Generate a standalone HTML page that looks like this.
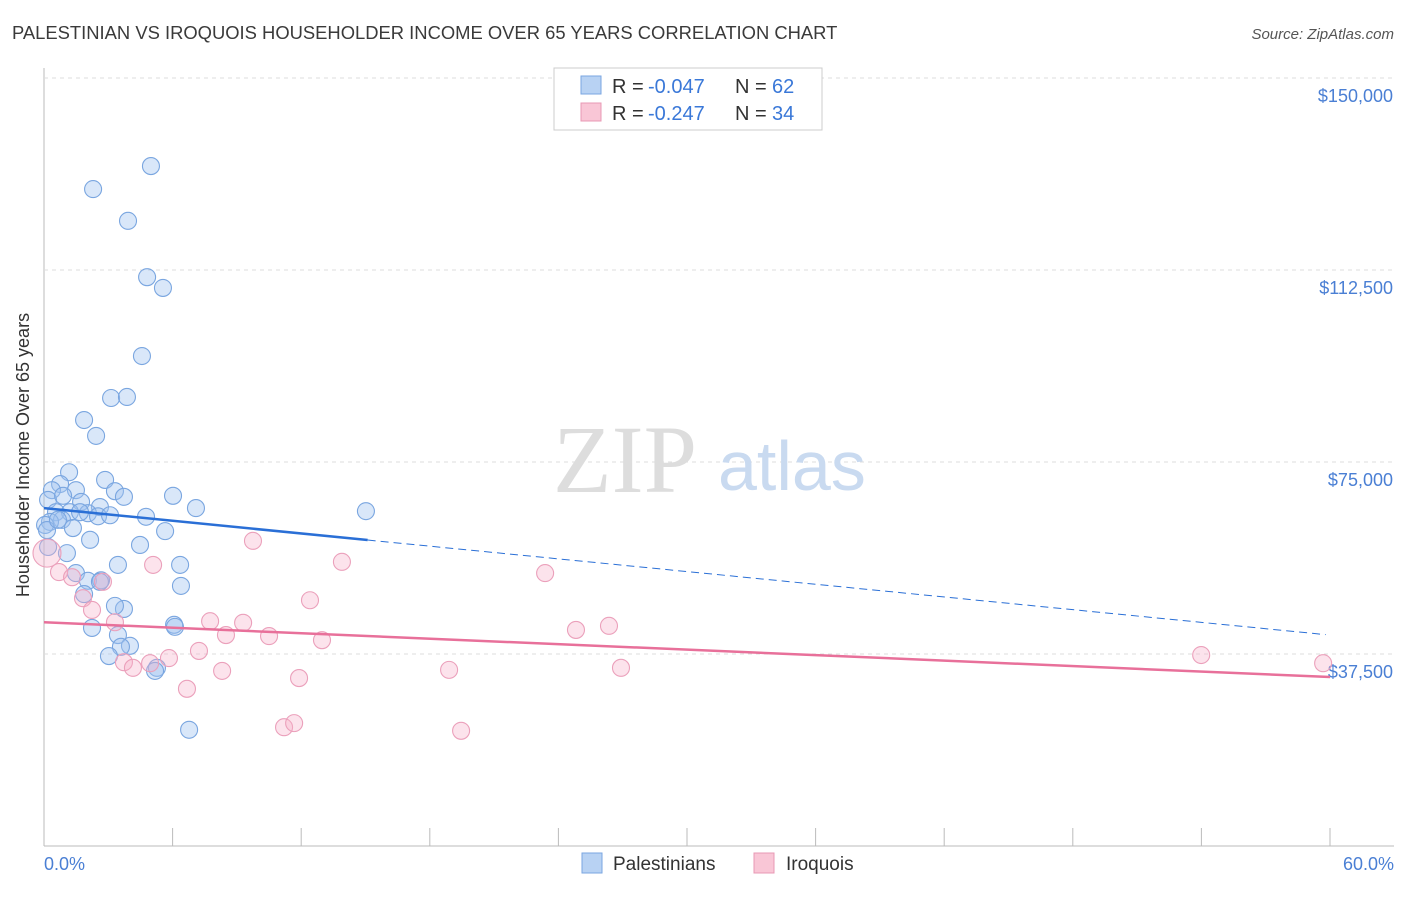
<!DOCTYPE html>
<html><head><meta charset="utf-8"><style>
body{margin:0;background:#fff;font-family:"Liberation Sans",sans-serif;}
</style></head><body>
<svg width="1406" height="892">
<text x="12" y="39" font-size="18.4" fill="#3a3a3a">PALESTINIAN VS IROQUOIS HOUSEHOLDER INCOME OVER 65 YEARS CORRELATION CHART</text>
<text x="1394" y="39" font-size="15" fill="#555" font-style="italic" text-anchor="end">Source: ZipAtlas.com</text>
<g id="grid"></g>
<text x="553" y="492" font-size="96" fill="#ddd" font-family="Liberation Serif">ZIP</text>
<text x="718" y="490" font-size="70" fill="#c9daf0">atlas</text>
<g id="pts"></g>
<g id="lines"></g>
<text x="29" y="455" font-size="18" fill="#333" text-anchor="middle" transform="rotate(-90 29 455)">Householder Income Over 65 years</text>
<text x="44" y="870" font-size="18" fill="#4a7fd4">0.0%</text>
<text x="1394" y="870" font-size="18" fill="#4a7fd4" text-anchor="end">60.0%</text>
<g>
<rect x="554" y="68" width="268" height="62" fill="#fff" stroke="#ccc"/>
<rect x="581" y="76" width="20" height="18" fill="#b8d2f3" stroke="#7aa6e0"/>
<rect x="581" y="103" width="20" height="18" fill="#f9c6d6" stroke="#e898b4"/>
<text x="612" y="93" font-size="20" fill="#333">R =</text>
<text x="648" y="93" font-size="20" fill="#3a78d8">-0.047</text>
<text x="735" y="93" font-size="20" fill="#333">N =</text>
<text x="772" y="93" font-size="20" fill="#3a78d8">62</text>
<text x="612" y="120" font-size="20" fill="#333">R =</text>
<text x="648" y="120" font-size="20" fill="#3a78d8">-0.247</text>
<text x="735" y="120" font-size="20" fill="#333">N =</text>
<text x="772" y="120" font-size="20" fill="#3a78d8">34</text>
</g>
<g>
<rect x="582" y="853" width="20" height="20" fill="#b8d2f3" stroke="#7aa6e0"/>
<text x="613" y="870" font-size="19" fill="#333">Palestinians</text>
<rect x="754" y="853" width="20" height="20" fill="#f9c6d6" stroke="#e898b4"/>
<text x="786" y="870" font-size="19" fill="#333">Iroquois</text>
</g>
</svg>
<script>
const yTicks=[37500,75000,112500,150000];
const yTickLabels=["$37,500","$75,000","$112,500","$150,000"];
const xTicks=[0,6,12,18,24,30,36,42,48,54,60];
const blueX=[4.99,2.29,3.92,4.81,5.55,4.57,3.13,3.87,1.87,2.43,1.17,2.85,0.75,0.37,1.49,3.31,3.73,6.02,0.19,1.73,2.61,7.09,15.02,0.56,1.21,2.05,2.52,0.84,4.76,0.28,1.35,5.65,2.15,4.48,1.07,0.19,3.45,6.35,1.49,6.39,2.05,2.66,2.61,1.87,3.73,3.31,2.24,6.07,6.11,3.45,4.01,3.59,3.03,5.27,5.18,6.77,0.05,0.14,0.65,0.89,1.68,3.08];
const blueY=[132800,128300,122100,111100,109000,95700,87500,87700,83200,80100,73000,71500,70700,69500,69500,69300,68200,68400,67600,67200,66200,66000,65400,65200,65200,65000,64400,63700,64300,63300,62100,61500,59800,58800,57200,58400,54900,54900,53300,50800,51800,51900,51600,49200,46300,46900,42600,43200,42800,41200,39100,38900,37100,34800,34200,22700,62700,61700,63700,68400,65200,64600];
const pinkX=[0.14,0.70,1.31,1.82,2.24,2.75,3.31,5.09,9.75,13.90,23.38,12.41,7.75,9.29,8.49,10.50,12.97,7.23,5.83,3.73,4.15,4.95,8.31,6.67,11.90,18.90,26.92,24.82,26.36,11.20,11.67,19.46,53.99,59.68];
const pinkY=[57200,53500,52500,48400,46100,51600,43700,54900,59600,55500,53300,48000,43900,43600,41200,41000,40200,38100,36700,35900,34800,35700,34200,30700,32800,34400,34800,42200,43000,23200,24000,22500,37300,35700];
const blueTrend=[66000,41200], pinkTrend=[43700,33000];
const X=v=>44+v/60*1286, Y=v=>846-v/37500*192;
const NS="http://www.w3.org/2000/svg";
function mk(t,a,p){const e=document.createElementNS(NS,t);for(const k in a)e.setAttribute(k,a[k]);p.appendChild(e);return e;}
const grid=document.getElementById('grid');
let ax=mk('line',{x1:44,y1:68,x2:44,y2:846,stroke:'#bbb'},grid);


let bx=mk('line',{x1:44,y1:846,x2:1394,y2:846,stroke:'#bbb'},grid);


yTicks.forEach((v,i)=>{
 const g=mk('line',{x1:44,y1:Y(v),x2:1394,y2:Y(v),stroke:'#ddd','stroke-dasharray':'4,4'},grid);
 
 
 const t=mk('text',{x:1393,y:Y(v)+24,'font-size':18,fill:'#4a7fd4','text-anchor':'end'},grid);
 t.textContent=yTickLabels[i];
 
 
});
xTicks.forEach(v=>{
 const l=mk('line',{x1:X(v),y1:828,x2:X(v),y2:846,stroke:'#bbb'},grid);
 
 
});
const pts=document.getElementById('pts');
blueX.forEach((x,i)=>{
 const c=mk('circle',{cx:X(x),cy:Y(blueY[i]),r:8.5,fill:'rgba(160,195,240,0.4)',stroke:'#7aa6e0','stroke-width':1.1},pts);
 
 
});
pinkX.forEach((x,i)=>{
 const c=mk('circle',{cx:X(x),cy:Y(pinkY[i]),r:i==0?14:8.5,fill:'rgba(245,175,200,0.35)',stroke:'#eba0bb','stroke-width':1.1},pts);
 
 
});
const L=document.getElementById('lines');
const by=x=>blueTrend[0]+(blueTrend[1]-blueTrend[0])*x/60;
let l1=mk('line',{x1:X(0),y1:Y(by(0)),x2:X(15.1),y2:Y(by(15.1)),stroke:'#2a6fd6','stroke-width':2.5},L);


let l2=mk('line',{x1:X(15.1),y1:Y(by(15.1)),x2:X(59.8),y2:Y(by(59.8)),stroke:'#2a6fd6','stroke-width':1,'stroke-dasharray':'8,5'},L);


let l3=mk('line',{x1:X(0),y1:Y(pinkTrend[0]),x2:X(60),y2:Y(pinkTrend[1]),stroke:'#e8709a','stroke-width':2.5},L);


</script>
</body></html>
